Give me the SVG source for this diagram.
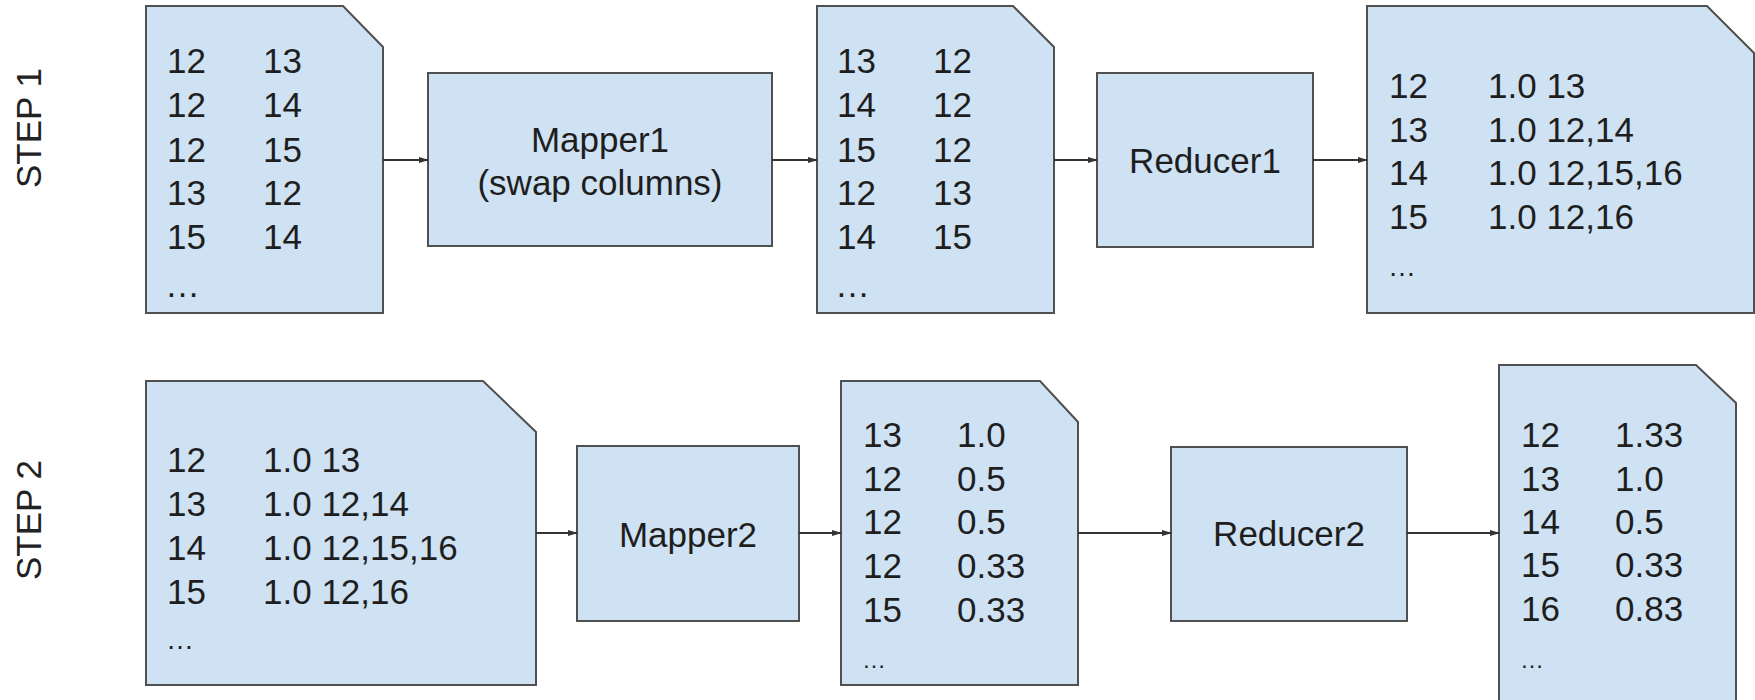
<svg xmlns="http://www.w3.org/2000/svg" width="1755" height="700" viewBox="0 0 1755 700">
<style>
.shape{fill:#cfe2f3;stroke:#505050;stroke-width:2}
text{font-family:"Liberation Sans",Arial,sans-serif;font-size:35px;fill:#1e1e1e}
.c{text-anchor:middle}
.step{font-size:35px;fill:#222}
.conn line{stroke:#333;stroke-width:1.8}
</style>
<defs>
<marker id="ah" markerWidth="10" markerHeight="8" refX="9" refY="4" orient="auto" markerUnits="userSpaceOnUse">
<path d="M0,1 L10,4 L0,7 Z" fill="#333"/>
</marker>
</defs>
<rect width="1755" height="700" fill="#ffffff"/>
<text class="step c" transform="translate(41,128) rotate(-90)">STEP 1</text>
<text class="step c" transform="translate(41,520) rotate(-90)">STEP 2</text>

<g id="doc1">
<path class="shape" d="M146,6 H343 L383,47 V313 H146 Z"/>
<text x="167" y="73">12</text><text x="263" y="73">13</text>
<text x="167" y="117">12</text><text x="263" y="117">14</text>
<text x="167" y="162">12</text><text x="263" y="162">15</text>
<text x="167" y="205">13</text><text x="263" y="205">12</text>
<text x="167" y="249">15</text><text x="263" y="249">14</text>
<text x="165" y="297">…</text>
</g>
<g id="mapper1">
<rect class="shape" x="428" y="73" width="344" height="173"/>
<text class="c" x="600" y="152">Mapper1</text>
<text class="c" x="600" y="195">(swap columns)</text>
</g>
<g id="doc2">
<path class="shape" d="M817,6 H1013 L1054,47 V313 H817 Z"/>
<text x="837" y="73">13</text><text x="933" y="73">12</text>
<text x="837" y="117">14</text><text x="933" y="117">12</text>
<text x="837" y="162">15</text><text x="933" y="162">12</text>
<text x="837" y="205">12</text><text x="933" y="205">13</text>
<text x="837" y="249">14</text><text x="933" y="249">15</text>
<text x="835" y="297">…</text>
</g>
<g id="reducer1">
<rect class="shape" x="1097" y="73" width="216" height="174"/>
<text class="c" x="1205" y="173">Reducer1</text>
</g>
<g id="doc3">
<path class="shape" d="M1367,6 H1707 L1754,53 V313 H1367 Z"/>
<text x="1389" y="98">12</text><text x="1488" y="98">1.0 13</text>
<text x="1389" y="142">13</text><text x="1488" y="142">1.0 12,14</text>
<text x="1389" y="185">14</text><text x="1488" y="185">1.0 12,15,16</text>
<text x="1389" y="229">15</text><text x="1488" y="229">1.0 12,16</text>
<text x="1388" y="276" style="font-size:28px">…</text>
</g>

<g id="doc4">
<path class="shape" d="M146,381 H483 L536,432 V685 H146 Z"/>
<text x="167" y="472">12</text><text x="263" y="472">1.0 13</text>
<text x="167" y="516">13</text><text x="263" y="516">1.0 12,14</text>
<text x="167" y="560">14</text><text x="263" y="560">1.0 12,15,16</text>
<text x="167" y="604">15</text><text x="263" y="604">1.0 12,16</text>
<text x="166" y="649" style="font-size:28px">…</text>
</g>
<g id="mapper2">
<rect class="shape" x="577" y="446" width="222" height="175"/>
<text class="c" x="688" y="547">Mapper2</text>
</g>
<g id="doc5">
<path class="shape" d="M841,381 H1040 L1078,422 V685 H841 Z"/>
<text x="863" y="447">13</text><text x="957" y="447">1.0</text>
<text x="863" y="491">12</text><text x="957" y="491">0.5</text>
<text x="863" y="534">12</text><text x="957" y="534">0.5</text>
<text x="863" y="578">12</text><text x="957" y="578">0.33</text>
<text x="863" y="622">15</text><text x="957" y="622">0.33</text>
<text x="862" y="668" style="font-size:24px">…</text>
</g>
<g id="reducer2">
<rect class="shape" x="1171" y="447" width="236" height="174"/>
<text class="c" x="1289" y="546">Reducer2</text>
</g>
<g id="doc6">
<path class="shape" d="M1499,365 H1696 L1736,403 V712 H1499 Z"/>
<text x="1521" y="447">12</text><text x="1615" y="447">1.33</text>
<text x="1521" y="491">13</text><text x="1615" y="491">1.0</text>
<text x="1521" y="534">14</text><text x="1615" y="534">0.5</text>
<text x="1521" y="577">15</text><text x="1615" y="577">0.33</text>
<text x="1521" y="621">16</text><text x="1615" y="621">0.83</text>
<text x="1520" y="668" style="font-size:24px">…</text>
</g>

<g id="connectors" class="conn">
<line x1="383" y1="160" x2="428" y2="160" marker-end="url(#ah)"/>
<line x1="772" y1="160" x2="817" y2="160" marker-end="url(#ah)"/>
<line x1="1054" y1="160" x2="1097" y2="160" marker-end="url(#ah)"/>
<line x1="1313" y1="160" x2="1367" y2="160" marker-end="url(#ah)"/>
<line x1="536" y1="533" x2="577" y2="533" marker-end="url(#ah)"/>
<line x1="799" y1="533" x2="841" y2="533" marker-end="url(#ah)"/>
<line x1="1078" y1="533" x2="1171" y2="533" marker-end="url(#ah)"/>
<line x1="1407" y1="533" x2="1499" y2="533" marker-end="url(#ah)"/>
</g>
</svg>
